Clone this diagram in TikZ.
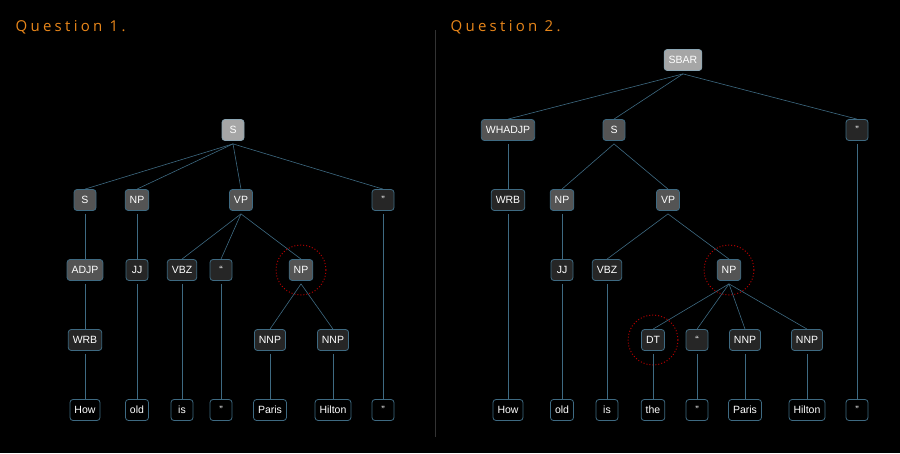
\documentclass[tikz,border=0pt]{standalone}
\usepackage{fontspec}
\setmainfont{Liberation Sans}
\newfontfamily\titlefont[LetterSpace=22]{Open Sans}
\begin{document}
\begin{tikzpicture}[x=1pt,y=-1pt,
  base/.style={rounded corners=3pt,draw=edgec,line width=0.8pt,text=white,font=\fontsize{10.5}{12}\selectfont,minimum height=21pt,inner xsep=4.5pt,minimum width=22pt},
  top/.style={base,fill=topc,draw=edgec!60!white},
  phr/.style={base,fill=phrc},
  pre/.style={base,fill=prec},
  leaf/.style={base,fill=black},
  ed/.style={draw=edgec,line width=0.6pt},
  ring/.style={draw=red!70!black,dotted,line width=1pt,circle,minimum size=50pt}]
\definecolor{edgec}{HTML}{3E6A82}
\definecolor{topc}{HTML}{A6A6A6}
\definecolor{phrc}{HTML}{545454}
\definecolor{prec}{HTML}{262626}
\definecolor{titc}{HTML}{E8861A}
\fill[black] (0,0) rectangle (900,453);
\useasboundingbox (0,0) rectangle (900,453);
\node[anchor=west,text=titc,font=\titlefont\fontsize{15}{17}\selectfont] (t1) at (12,27) {Question 1.};
\node[anchor=west,text=titc,font=\titlefont\fontsize{15}{17}\selectfont] (t2) at (447,27) {Question 2.};
\draw[draw=gray!40!black,line width=0.6pt] (435,30) -- (435,437);
% Q1
\node[top] (aS) at (233,130) {S};
\node[phr] (aS2) at (85,200) {S};
\node[phr] (aNP) at (137,200) {NP};
\node[phr] (aVP) at (241,200) {VP};
\node[pre] (aQ) at (383,200) {"};
\node[phr] (aADJP) at (85,270) {ADJP};
\node[pre] (aJJ) at (137,270) {JJ};
\node[pre] (aVBZ) at (182,270) {VBZ};
\node[pre] (aBT) at (221,270) {\char96\char96};
\node[phr] (aNP2) at (301,270) {NP};
\node[pre] (aWRB) at (85,340) {WRB};
\node[pre] (aNNP1) at (270,340) {NNP};
\node[pre] (aNNP2) at (333,340) {NNP};
\node[leaf] (aw1) at (85,410) {How};
\node[leaf] (aw2) at (137,410) {old};
\node[leaf] (aw3) at (182,410) {is};
\node[leaf] (aw4) at (221,410) {"};
\node[leaf] (aw5) at (270,410) {Paris};
\node[leaf] (aw6) at (333,410) {Hilton};
\node[leaf] (aw7) at (383,410) {"};
\node[ring] (ac) at (301,270) {};
\foreach \p/\c in {aS/aS2,aS/aNP,aS/aVP,aS/aQ,aS2/aADJP,aNP/aJJ,aVP/aVBZ,aVP/aBT,aVP/aNP2,aADJP/aWRB,aNP2/aNNP1,aNP2/aNNP2,aWRB/aw1,aJJ/aw2,aVBZ/aw3,aBT/aw4,aNNP1/aw5,aNNP2/aw6,aQ/aw7}
  \draw[ed] ([yshift=-3pt]\p.south) -- (\c.north);
% Q2
\node[top] (bSBAR) at (683,60) {SBAR};
\node[phr] (bWH) at (508,130) {WHADJP};
\node[phr] (bS) at (614,130) {S};
\node[pre] (bQ) at (857,130) {"};
\node[pre] (bWRB) at (508,200) {WRB};
\node[phr] (bNP) at (562,200) {NP};
\node[phr] (bVP) at (668,200) {VP};
\node[pre] (bJJ) at (562,270) {JJ};
\node[pre] (bVBZ) at (607,270) {VBZ};
\node[phr] (bNP2) at (729,270) {NP};
\node[pre] (bDT) at (653,340) {DT};
\node[pre] (bBT) at (697,340) {\char96\char96};
\node[pre] (bNNP1) at (745,340) {NNP};
\node[pre] (bNNP2) at (807,340) {NNP};
\node[leaf] (bw1) at (508,410) {How};
\node[leaf] (bw2) at (562,410) {old};
\node[leaf] (bw3) at (607,410) {is};
\node[leaf] (bw4) at (653,410) {the};
\node[leaf] (bw5) at (697,410) {"};
\node[leaf] (bw6) at (745,410) {Paris};
\node[leaf] (bw7) at (807,410) {Hilton};
\node[leaf] (bw8) at (857,410) {"};
\node[ring] (bc1) at (729,270) {};
\node[ring] (bc2) at (653,340) {};
\foreach \p/\c in {bSBAR/bWH,bSBAR/bS,bSBAR/bQ,bWH/bWRB,bS/bNP,bS/bVP,bNP/bJJ,bVP/bVBZ,bVP/bNP2,bNP2/bDT,bNP2/bBT,bNP2/bNNP1,bNP2/bNNP2,bWRB/bw1,bJJ/bw2,bVBZ/bw3,bDT/bw4,bBT/bw5,bNNP1/bw6,bNNP2/bw7,bQ/bw8}
  \draw[ed] ([yshift=-3pt]\p.south) -- (\c.north);
\end{tikzpicture}
\end{document}
